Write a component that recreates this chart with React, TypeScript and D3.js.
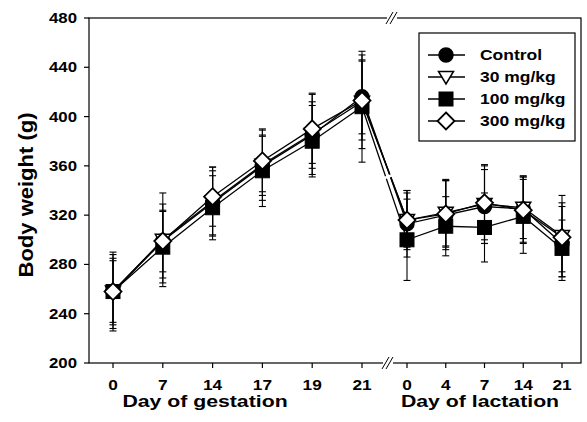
import React from "react";
import * as d3 from "d3";

// day labels for the two phases
const gestDays = ["0", "7", "14", "17", "19", "21"];
const lactDays = ["0", "4", "7", "14", "21"];
const yTicks = [200, 240, 280, 320, 360, 400, 440, 480];

// means and SDs: 6 gestation points followed by 5 lactation points
const controlMean = [258, 299, 330, 360, 385, 416, 313, 320, 327, 325, 297];
const controlSD = [27, 30, 26, 24, 27, 30, 27, 28, 30, 27, 30];
const dose30Mean = [258, 300, 331, 361, 386, 412, 316, 322, 329, 326, 303];
const dose30SD = [32, 38, 28, 29, 33, 38, 24, 27, 32, 25, 33];
const dose100Mean = [258, 294, 326, 356, 380, 408, 300, 311, 310, 319, 293];
const dose100SD = [30, 29, 26, 29, 29, 45, 33, 24, 28, 30, 23];
const dose300Mean = [258, 299, 335, 364, 390, 413, 316, 321, 330, 324, 302];
const dose300SD = [25, 25, 24, 25, 28, 32, 22, 27, 30, 27, 28];

const seriesNames = ["Control", "30 mg/kg", "100 mg/kg", "300 mg/kg"];
const seriesMarks = ["circle", "triangle", "square", "diamond"];

const FONT = "Arial, 'Liberation Sans', sans-serif";

const W = 587;
const H = 422;
const left = 89;
const right = 581;
const top = 18;
const bottom = 363;

const yScale = d3.scaleLinear().domain([200, 480]).range([bottom, top]);
const gestX = d3.scalePoint().domain(gestDays).range([113, 362]);
const lactX = d3.scalePoint().domain(lactDays).range([407, 562]);

const xPos = (i: number) =>
  i < gestDays.length
    ? (gestX(gestDays[i]) as number)
    : (lactX(lactDays[i - gestDays.length]) as number);

const STxt = ({ x, y, size, anchor = "start", sx = 1.25, children }: any) => (
  <text
    transform={`translate(${x},${y}) scale(${sx},1)`}
    fontSize={size}
    fontWeight="bold"
    fontFamily={FONT}
    textAnchor={anchor}
    fill="#000"
  >
    {children}
  </text>
);

const Marker = ({ kind, x, y }: { kind: string; x: number; y: number }) => {
  if (kind === "circle") return <circle cx={x} cy={y} r={7} fill="#000" stroke="#000" strokeWidth={1.5} />;
  if (kind === "square")
    return <rect x={x - 7} y={y - 7} width={14} height={14} fill="#000" stroke="#000" strokeWidth={1} />;
  if (kind === "triangle")
    return (
      <path d={`M${x - 7.5},${y - 5.5}L${x + 7.5},${y - 5.5}L${x},${y + 7}Z`} fill="#fff" stroke="#000" strokeWidth={1.5} />
    );
  return (
    <path d={`M${x},${y - 8.5}L${x + 8.5},${y}L${x},${y + 8.5}L${x - 8.5},${y}Z`} fill="#fff" stroke="#000" strokeWidth={1.8} />
  );
};

export default function App() {
  const means = [controlMean, dose30Mean, dose100Mean, dose300Mean];
  const sds = [controlSD, dose30SD, dose100SD, dose300SD];
  const line = d3
    .line<number>()
    .x((_, i) => xPos(i))
    .y((d) => yScale(d));

  const breakMark = (x: number, y: number) => (
    <g>
      <rect x={x - 5} y={y - 2} width={10} height={4} fill="#fff" />
      <line x1={x - 6} y1={y + 6} x2={x + 1} y2={y - 6} stroke="#000" strokeWidth={1} />
      <line x1={x - 2} y1={y + 6} x2={x + 5} y2={y - 6} stroke="#000" strokeWidth={1} />
    </g>
  );

  const legendRows = [55, 77, 99, 121];

  return (
    <svg width={W} height={H} style={{ position: "absolute", left: 0, top: 0, background: "#fff" }}>
      {/* frame */}
      <rect x={left} y={top} width={right - left} height={bottom - top} fill="none" stroke="#000" strokeWidth={1.2} />
      {yTicks.map((t) => (
        <g key={t}>
          <line x1={left - 5} x2={left} y1={yScale(t)} y2={yScale(t)} stroke="#000" strokeWidth={1.2} />
          <STxt x={77} y={yScale(t) + 5} size={14} anchor="end" sx={1.2}>
            {t}
          </STxt>
        </g>
      ))}
      {means[0].map((_, i) => (
        <g key={i}>
          <line x1={xPos(i)} x2={xPos(i)} y1={bottom} y2={bottom + 5} stroke="#000" strokeWidth={1.2} />
          <STxt x={xPos(i)} y={390} size={15} anchor="middle" sx={1.15}>
            {i < gestDays.length ? gestDays[i] : lactDays[i - gestDays.length]}
          </STxt>
        </g>
      ))}
      {breakMark(392, top)}
      {breakMark(388, bottom)}

      {/* axis titles */}
      <STxt x={205} y={407} size={17} anchor="middle" sx={1.25}>
        Day of gestation
      </STxt>
      <STxt x={480} y={407} size={17} anchor="middle" sx={1.25}>
        Day of lactation
      </STxt>
      <text
        transform="translate(33,195) rotate(-90)"
        fontSize={21}
        fontWeight="bold"
        fontFamily={FONT}
        textAnchor="middle"
        textLength={165}
        lengthAdjust="spacingAndGlyphs"
      >
        Body weight (g)
      </text>

      {/* error bars */}
      {means.map((m, s) =>
        m.map((v, i) => {
          const x = xPos(i);
          const y1 = yScale(v - sds[s][i]);
          const y2 = yScale(v + sds[s][i]);
          return (
            <g key={`${s}-${i}`} stroke="#000" strokeWidth={1.1}>
              <line x1={x} x2={x} y1={y1} y2={y2} />
              <line x1={x - 3.5} x2={x + 3.5} y1={y1} y2={y1} />
              <line x1={x - 3.5} x2={x + 3.5} y1={y2} y2={y2} />
            </g>
          );
        })
      )}

      {/* lines */}
      {means.map((m, s) => (
        <path key={s} d={line(m) || ""} fill="none" stroke="#000" strokeWidth={1.3} />
      ))}
      {/* gap in the connecting lines across the axis break */}
      <line x1={379} y1={180} x2={401} y2={172} stroke="#fff" strokeWidth={2.5} />

      {/* markers */}
      {means.map((m, s) =>
        m.map((v, i) => <Marker key={`${s}-${i}`} kind={seriesMarks[s]} x={xPos(i)} y={yScale(v)} />)
      )}

      {/* legend */}
      <rect x={419} y={33} width={156} height={108} fill="#fff" stroke="#000" strokeWidth={1.2} />
      {seriesNames.map((name, s) => (
        <g key={name}>
          <line x1={428} x2={465} y1={legendRows[s]} y2={legendRows[s]} stroke="#000" strokeWidth={1.5} />
          <Marker kind={seriesMarks[s]} x={446} y={legendRows[s]} />
          <STxt x={480} y={legendRows[s] + 5} size={14} sx={1.25}>
            {name}
          </STxt>
        </g>
      ))}
    </svg>
  );
}
